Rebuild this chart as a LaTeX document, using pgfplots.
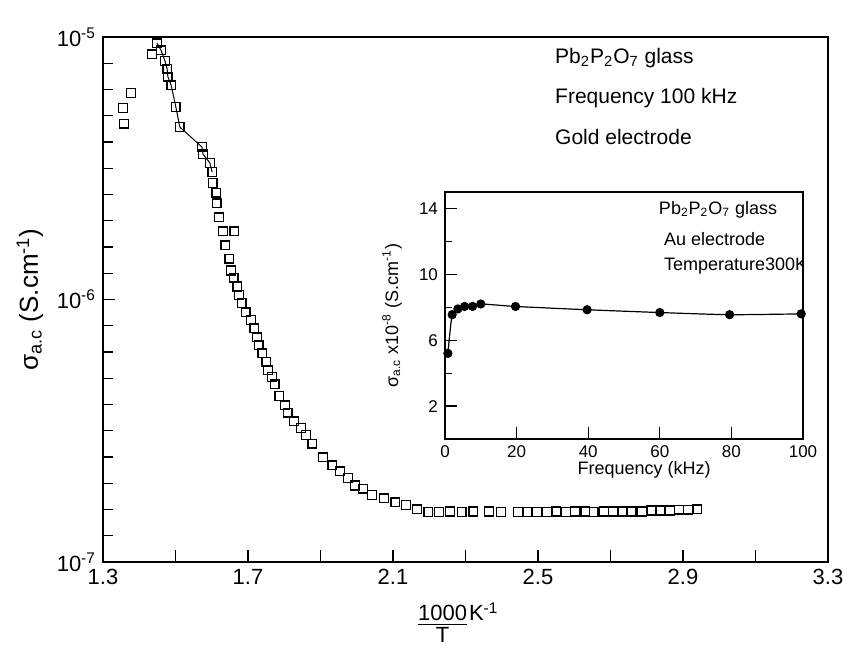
\documentclass[border=0pt]{standalone}
\usepackage{pgfplots}
\pgfplotsset{compat=1.18}
\usepackage{fontspec}
\setmainfont{Liberation Sans}
\begin{document}
\begin{tikzpicture}
\begin{axis}[
  at={(0,0)}, anchor=south west, scale only axis,
  width=362.5pt, height=262.5pt,
  xmin=1.3, xmax=3.3, ymode=log, ymin=1e-7, ymax=1e-5,
  xtick={1.3,1.5,1.7,1.9,2.1,2.3,2.5,2.7,2.9,3.1,3.3},
  xticklabels={1.3,,1.7,,2.1,,2.5,,2.9,,3.3},
  ytick={1e-7,1e-6,1e-5},
  yticklabels={10\textsuperscript{-7},10\textsuperscript{-6},10\textsuperscript{-5}},
  minor ytick={1.259e-7,1.585e-7,1.995e-7,2.512e-7,3.162e-7,3.981e-7,5.012e-7,6.310e-7,7.943e-7,
               1.259e-6,1.585e-6,1.995e-6,2.512e-6,3.162e-6,3.981e-6,5.012e-6,6.310e-6,7.943e-6},
  tick align=inside, xtick pos=bottom, ytick pos=left,
  major tick length=6pt, minor tick length=5pt,
  axis line style={line width=0.8pt},
  every tick/.style={black, line width=0.6pt},
  ticklabel style={font=\fontsize{11}{13}\selectfont},
  ylabel={σ\textsubscript{a.c} (S.cm\textsuperscript{-1})},
  ylabel style={at={(axis description cs:-0.1007,0.5)}, anchor=center, font=\fontsize{13}{15}\selectfont},
  xlabel={\begin{tabular}[t]{@{}c@{}}\underline{1000}\\[-1pt]T\end{tabular}\hspace{1pt}K\textsuperscript{-1}},
  xlabel style={at={(axis description cs:0.49,0)}, anchor=north, yshift=-20pt, inner sep=0pt, font=\fontsize{11}{12}\selectfont},
]
\addplot[black, line width=0.5pt] coordinates {
(1.449,9.48e-6) (1.460,8.91e-6) (1.471,8.11e-6) (1.477,7.55e-6) (1.479,7.05e-6)
(1.488,6.56e-6) (1.501,5.41e-6) (1.512,4.54e-6) (1.573,3.81e-6) (1.576,3.58e-6)
(1.595,3.31e-6) (1.601,3.06e-6)};
\addplot[only marks, mark=square, mark size=2.2pt, mark options={line width=0.8pt, fill=white}] table {
x y
1.355 5.37e-6
1.358 4.67e-6
1.377 6.12e-6
1.435 8.61e-6
1.449 9.48e-6
1.460 8.91e-6
1.471 8.11e-6
1.477 7.55e-6
1.479 7.05e-6
1.488 6.56e-6
1.501 5.41e-6
1.512 4.54e-6
1.573 3.81e-6
1.576 3.58e-6
1.595 3.31e-6
1.601 3.06e-6
1.603 2.78e-6
1.612 2.55e-6
1.614 2.33e-6
1.620 2.06e-6
1.631 1.82e-6
1.662 1.82e-6
1.637 1.61e-6
1.648 1.43e-6
1.653 1.29e-6
1.661 1.21e-6
1.670 1.12e-6
1.675 1.04e-6
1.683 9.70e-7
1.694 8.95e-7
1.708 8.36e-7
1.717 7.78e-7
1.725 7.19e-7
1.730 6.71e-7
1.739 6.25e-7
1.750 5.78e-7
1.755 5.38e-7
1.766 5.07e-7
1.774 4.76e-7
1.786 4.29e-7
1.802 3.96e-7
1.810 3.70e-7
1.827 3.44e-7
1.846 3.24e-7
1.860 3.05e-7
1.877 2.82e-7
1.907 2.51e-7
1.932 2.34e-7
1.954 2.22e-7
1.976 2.09e-7
1.995 1.96e-7
2.017 1.90e-7
2.042 1.80e-7
2.075 1.75e-7
2.106 1.69e-7
2.136 1.65e-7
2.166 1.59e-7
2.197 1.55e-7
2.227 1.55e-7
2.257 1.56e-7
2.290 1.55e-7
2.321 1.56e-7
2.365 1.56e-7
2.398 1.55e-7
2.445 1.55e-7
2.472 1.55e-7
2.497 1.55e-7
2.525 1.55e-7
2.550 1.56e-7
2.577 1.55e-7
2.602 1.56e-7
2.630 1.56e-7
2.654 1.55e-7
2.682 1.56e-7
2.707 1.56e-7
2.734 1.56e-7
2.759 1.56e-7
2.787 1.56e-7
2.812 1.57e-7
2.839 1.57e-7
2.864 1.57e-7
2.889 1.58e-7
2.914 1.58e-7
2.939 1.59e-7
};
\node[anchor=west, font=\fontsize{10.5}{12}\selectfont] at (rel axis cs:0.614,0.960) {Pb\textsubscript{2}P\textsubscript{2}O\textsubscript{7} glass};
\node[anchor=west, font=\fontsize{10.5}{12}\selectfont] at (rel axis cs:0.614,0.884) {Frequency 100 kHz};
\node[anchor=west, font=\fontsize{10.5}{12}\selectfont] at (rel axis cs:0.614,0.810) {Gold electrode};
\end{axis}

\begin{axis}[
  at={(171pt,61.5pt)}, anchor=south west, scale only axis,
  width=179pt, height=123.5pt,
  xmin=0, xmax=100, ymin=0, ymax=15,
  xtick={0,20,40,60,80,100},
  ytick={2,6,10,14}, minor ytick={4,8,12},
  tick align=inside, xtick pos=bottom, ytick pos=left,
  major tick length=6pt, minor tick length=3.5pt,
  axis line style={line width=0.7pt},
  every tick/.style={black, line width=0.6pt},
  /pgf/number format/assume math mode=true,
  ticklabel style={font=\fontsize{8.5}{10}\selectfont},
  xlabel={Frequency (kHz)},
  xlabel style={at={(axis description cs:0.556,0)}, anchor=center, yshift=-15.5pt, font=\fontsize{9}{11}\selectfont},
  ylabel={σ\textsubscript{a.c} x10\textsuperscript{-8} (S.cm\textsuperscript{-1})},
  ylabel style={at={(axis description cs:-0.148,0.5)}, anchor=center, font=\fontsize{9}{11}\selectfont},
]
\addplot[black, line width=0.6pt, smooth, tension=0.4, mark=*, mark size=2pt] table {
x y
0.8 5.2
2 7.55
3.6 7.9
5.5 8.05
7.7 8.05
10 8.2
19.7 8.05
39.7 7.85
60 7.68
79.5 7.55
99.5 7.6
};
\node[anchor=west, font=\fontsize{9}{11}\selectfont] at (rel axis cs:0.578,0.927) {Pb\textsubscript{2}P\textsubscript{2}O\textsubscript{7} glass};
\node[anchor=west, font=\fontsize{9}{11}\selectfont] at (rel axis cs:0.592,0.810) {Au electrode};
\node[anchor=west, font=\fontsize{9}{11}\selectfont] at (rel axis cs:0.592,0.700) {Temperature300K};
\end{axis}
\pgfresetboundingbox
\path (-51.5pt,-46.5pt) rectangle (374pt,281pt);
\end{tikzpicture}
\end{document}
